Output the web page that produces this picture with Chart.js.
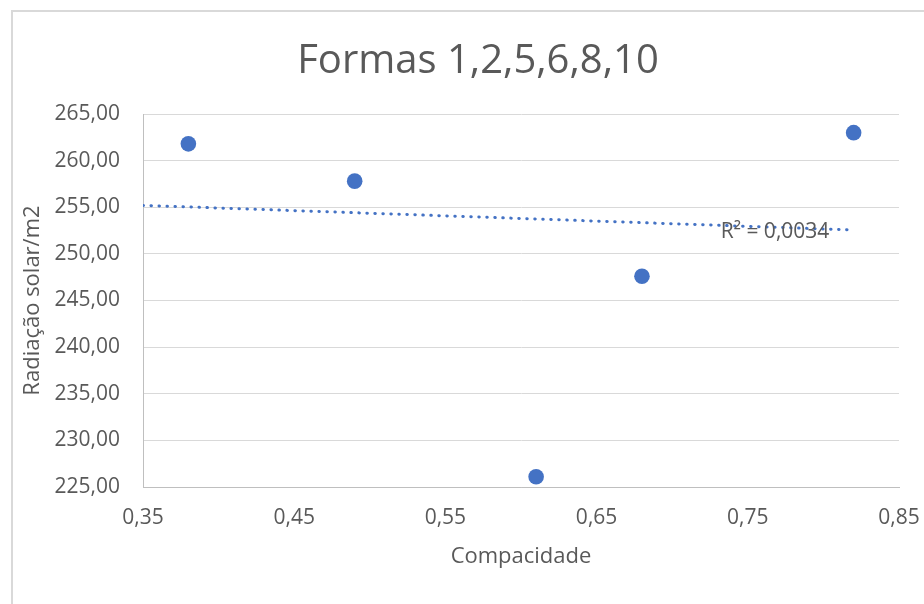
<!DOCTYPE html>
<html>
<head>
<meta charset="utf-8">
<title>Formas 1,2,5,6,8,10</title>
<script src="https://cdn.jsdelivr.net/npm/chart.js@4"></script>
<style>
  html, body { margin: 0; padding: 0; background: #fff; }
  #wrap { position: relative; width: 924px; height: 604px; overflow: hidden; }
  #frame { position: absolute; left: 11px; top: 10px; width: 1000px; height: 1000px;
           border: 2px solid #d9d9d9; box-sizing: border-box; }
  #c { position: absolute; left: 0; top: 0; }
</style>
</head>
<body>
<div id="wrap">
  <div id="frame"></div>
  <canvas id="c" width="924" height="604"></canvas>
</div>
<script>
// Compactness vs. solar radiation per m2 for shapes 1, 2, 5, 6, 8 and 10
const compacidade = [0.38, 0.49, 0.61, 0.68, 0.82];
const radiacao    = [261.8, 257.8, 226.1, 247.6, 263.0];

// Linear trendline end points
const trendX = [0.35, 0.82];
const trendY = [255.2, 252.56];
const r2Text = 'R\u00B2 = 0,0034';
const chartTitle = 'Formas 1,2,5,6,8,10';

// Axis ticks
const xTicks = [0.35, 0.45, 0.55, 0.65, 0.75, 0.85];
const yTicks = [225, 230, 235, 240, 245, 250, 255, 260, 265];

const TEXT = '#595959';
const FONT = '"Open Sans", "Noto Sans", sans-serif';
const BLUE = '#4472C4';

const fmt = v => Number(v).toFixed(2).replace('.', ',');

const points = compacidade.map((x, i) => ({ x, y: radiacao[i] }));
const trend = trendX.map((x, i) => ({ x, y: trendY[i] }));

// Chart title, centred on the chart frame
const frameTitle = {
  id: 'frameTitle',
  afterDraw(chart, args, opts) {
    const { ctx } = chart;
    ctx.save();
    ctx.font = opts.size + 'px ' + FONT;
    ctx.fillStyle = TEXT;
    ctx.textAlign = 'center';
    ctx.textBaseline = 'alphabetic';
    ctx.fillText(chartTitle, opts.x, opts.baseline);
    ctx.restore();
  }
};

// R² annotation next to the trendline
const r2Label = {
  id: 'r2Label',
  afterDatasetsDraw(chart, args, opts) {
    const { ctx, scales } = chart;
    const px = scales.x.getPixelForValue(opts.x);
    const py = scales.y.getPixelForValue(opts.y);
    ctx.save();
    ctx.font = '21px ' + FONT;
    ctx.fillStyle = TEXT;
    ctx.textAlign = 'center';
    ctx.textBaseline = 'middle';
    ctx.fillText(r2Text, px, py);
    ctx.restore();
  }
};

new Chart(document.getElementById('c'), {
  type: 'scatter',
  data: {
    datasets: [
      {
        label: 'Linear',
        data: trend,
        showLine: true,
        borderColor: BLUE,
        borderWidth: 3,
        borderDash: [0.5, 7.5],
        borderCapStyle: 'round',
        pointRadius: 0,
        fill: false
      },
      {
        label: 'Radiação solar/m2',
        data: points,
        backgroundColor: BLUE,
        borderColor: BLUE,
        borderWidth: 0,
        pointRadius: 7.8,
        pointHoverRadius: 7.8
      }
    ]
  },
  options: {
    responsive: false,
    devicePixelRatio: 1,
    animation: false,
    layout: { padding: { left: 0, right: 25, top: 114, bottom: 0 } },
    plugins: {
      legend: { display: false },
      tooltip: { enabled: false },
      title: { display: false },
      frameTitle: { x: 478, baseline: 73, size: 40 },
      r2Label: { x: 0.768, y: 252.3 }
    },
    scales: {
      x: {
        type: 'linear',
        min: 0.35,
        max: 0.85,
        afterBuildTicks(scale) { scale.ticks = xTicks.map(v => ({ value: v })); },
        afterFit(scale) {
          scale.height = 117;
          scale.paddingLeft = 0;
          scale.paddingRight = 0;
        },
        grid: { display: false, drawTicks: false },
        border: { display: true, color: '#bfbfbf', width: 1 },
        ticks: {
          color: TEXT,
          font: { family: FONT, size: 21 },
          padding: 18,
          maxRotation: 0,
          autoSkip: false,
          callback: v => fmt(v)
        },
        title: {
          display: true,
          text: 'Compacidade',
          color: TEXT,
          font: { family: FONT, size: 22, lineHeight: 1.2 },
          padding: { top: 0, bottom: 34 }
        }
      },
      y: {
        type: 'linear',
        min: 225,
        max: 265,
        afterBuildTicks(scale) { scale.ticks = yTicks.map(v => ({ value: v })); },
        afterFit(scale) {
          scale.width = 143;
          scale.paddingTop = 0;
          scale.paddingBottom = 0;
        },
        grid: {
          drawTicks: false,
          color: ctx => (ctx.tick && ctx.tick.value === 225) ? '#bfbfbf' : '#d9d9d9',
          lineWidth: 1
        },
        border: { display: true, color: '#bfbfbf', width: 1 },
        ticks: {
          color: TEXT,
          font: { family: FONT, size: 21 },
          padding: 23,
          autoSkip: false,
          callback: v => fmt(v)
        },
        title: {
          display: true,
          text: 'Radiação solar/m2',
          color: TEXT,
          font: { family: FONT, size: 22, lineHeight: 1.2 },
          padding: { top: 20, bottom: 0 }
        }
      }
    }
  },
  plugins: [r2Label, frameTitle]
});
</script>
</body>
</html>
